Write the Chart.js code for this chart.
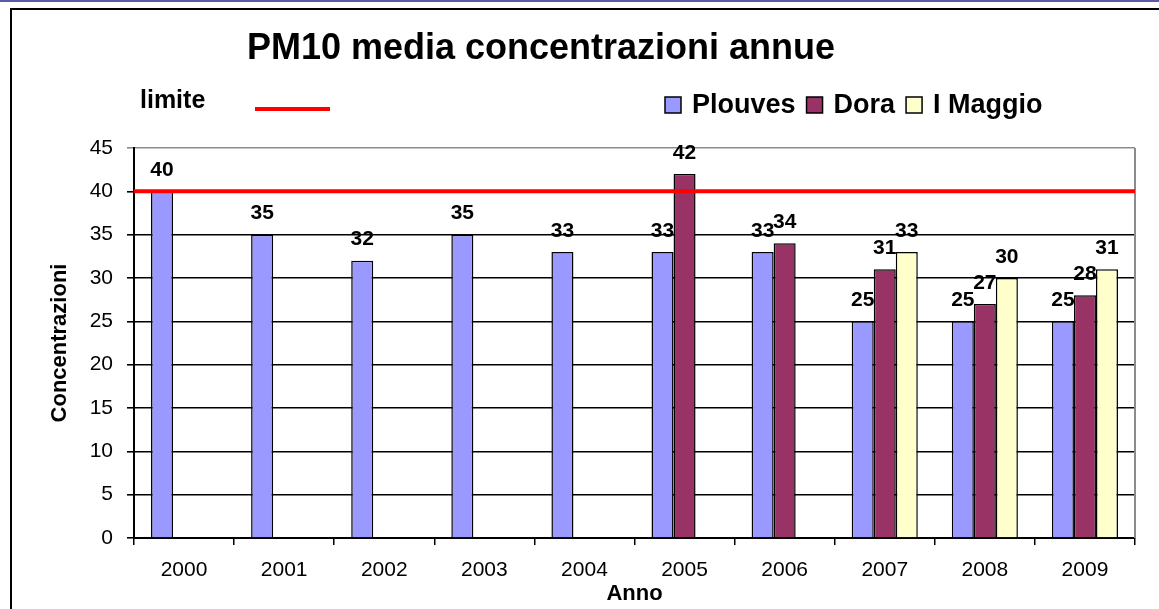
<!DOCTYPE html>
<html>
<head>
<meta charset="utf-8">
<title>PM10 media concentrazioni annue</title>
<script src="https://cdn.jsdelivr.net/npm/chart.js@4.4.0/dist/chart.umd.min.js"></script>
<style>
    html, body { margin: 0; padding: 0; background: #fff; }
    #wrap { width: 1159px; height: 609px; position: relative; }
</style>
</head>
<body>
<div id="wrap"><canvas id="myChart"></canvas></div>
<script>
// Data
const years = ["2000", "2001", "2002", "2003", "2004", "2005", "2006", "2007", "2008", "2009"];
const plouves = [40, 35, 32, 35, 33, 33, 33, 25, 25, 25];
const dora = [null, null, null, null, null, 42, 34, 31, 27, 28];
const maggio = [null, null, null, null, null, null, null, 33, 30, 31];
const limite = 40;
const yMin = 0;
const yMax = 45;
const yStep = 5;

const FONT = "'Liberation Sans', Arial, sans-serif";
Chart.defaults.font.family = FONT;
Chart.defaults.color = "#000";

// title, legend, limit line, value labels and frame
const decorPlugin = {
    id: "decor",
    beforeDraw(chart) {
        const ctx = chart.ctx;
        ctx.save();
        ctx.fillStyle = "#fff";
        ctx.fillRect(0, 0, chart.width, chart.height);
        ctx.restore();
    },
    afterDatasetsDraw(chart) {
        const { ctx, chartArea, scales } = chart;
        ctx.save();

        // right border of the plot
        ctx.strokeStyle = "#8c8c8c";
        ctx.lineWidth = 2;
        ctx.beginPath();
        ctx.moveTo(chartArea.right, chartArea.top);
        ctx.lineTo(chartArea.right, chartArea.bottom);
        ctx.stroke();

        // limit line
        const yl = scales.y.getPixelForValue(limite);
        ctx.strokeStyle = "#ff0000";
        ctx.lineWidth = 4;
        ctx.beginPath();
        ctx.moveTo(chartArea.left, yl);
        ctx.lineTo(chartArea.right, yl);
        ctx.stroke();

        // value labels
        ctx.font = "bold 21px " + FONT;
        ctx.fillStyle = "#000";
        ctx.textAlign = "center";
        ctx.textBaseline = "middle";
        chart.data.datasets.forEach((ds, i) => {
            const meta = chart.getDatasetMeta(i);
            meta.data.forEach((bar, j) => {
                const v = ds.data[j];
                if (v === null || v === undefined) return;
                ctx.fillText(String(v), bar.x, bar.y - 21);
            });
        });
        ctx.restore();
    },
    afterDraw(chart) {
        const ctx = chart.ctx;
        ctx.save();

        // outer frame
        ctx.strokeStyle = "#5a5aa8";
        ctx.lineWidth = 2;
        ctx.beginPath();
        ctx.moveTo(0, 1);
        ctx.lineTo(chart.width, 1);
        ctx.stroke();
        ctx.strokeStyle = "#000";
        ctx.beginPath();
        ctx.moveTo(chart.width, 9);
        ctx.lineTo(11, 9);
        ctx.lineTo(11, chart.height);
        ctx.stroke();

        // title
        ctx.fillStyle = "#000";
        ctx.textAlign = "center";
        ctx.textBaseline = "alphabetic";
        ctx.font = "bold 36px " + FONT;
        ctx.fillText("PM10 media concentrazioni annue", 541, 59);

        // limit legend
        ctx.textAlign = "left";
        ctx.font = "bold 25px " + FONT;
        ctx.fillText("limite", 140, 108);
        ctx.strokeStyle = "#ff0000";
        ctx.lineWidth = 4;
        ctx.beginPath();
        ctx.moveTo(255, 109);
        ctx.lineTo(330, 109);
        ctx.stroke();

        // series legend
        ctx.font = "bold 27px " + FONT;
        let x = 665;
        chart.data.datasets.forEach((ds) => {
            ctx.fillStyle = ds.backgroundColor;
            ctx.fillRect(x, 97, 16, 16);
            ctx.strokeStyle = "#000";
            ctx.lineWidth = 1.5;
            ctx.strokeRect(x, 97, 16, 16);
            ctx.fillStyle = "#000";
            ctx.fillText(ds.label, x + 27, 113);
            x += 27 + ctx.measureText(ds.label).width + 11;
        });
        ctx.restore();
    }
};

const ctx = document.getElementById("myChart").getContext("2d");
const barChart = new Chart(ctx, {
    type: "bar",
    data: {
        labels: years,
        datasets: [
            { label: "Plouves", data: plouves, backgroundColor: "#9999ff" },
            { label: "Dora", data: dora, backgroundColor: "#993366" },
            { label: "I Maggio", data: maggio, backgroundColor: "#ffffcc" }
        ]
    },
    options: {
        responsive: true,
        maintainAspectRatio: false,
        animation: false,
        layout: { padding: { top: 148, right: 24, left: 0, bottom: 0 } },
        datasets: {
            bar: {
                categoryPercentage: 0.66,
                barPercentage: 1.0,
                borderColor: "#000",
                borderWidth: 1.5
            }
        },
        plugins: {
            legend: { display: false },
            tooltip: { enabled: false },
            title: { display: false }
        },
        scales: {
            x: {
                offset: true,
                grid: {
                    offset: true,
                    drawOnChartArea: false,
                    color: "#000",
                    lineWidth: 1.5,
                    tickLength: 7
                },
                border: { color: "#000", width: 2 },
                ticks: { font: { size: 21 }, color: "#000", padding: 13, maxRotation: 0 },
                title: {
                    display: true,
                    text: "Anno",
                    font: { size: 22, weight: "bold" },
                    color: "#000",
                    padding: { top: 0, bottom: 2 }
                },
                afterFit(scale) { scale.height = 71; }
            },
            y: {
                min: yMin,
                max: yMax,
                grid: {
                    color: (c) => (c.tick && c.tick.value === yMax ? "#8c8c8c" : "#000"),
                    lineWidth: 1.6,
                    tickLength: 7
                },
                border: { color: "#000", width: 2 },
                ticks: { stepSize: yStep, font: { size: 21 }, color: "#000", padding: 14 },
                title: {
                    display: true,
                    text: "Concentrazioni",
                    font: { size: 22, weight: "bold" },
                    color: "#000",
                    padding: { top: 47, bottom: 0 }
                },
                afterFit(scale) { scale.width = 134; }
            }
        }
    },
    plugins: [decorPlugin]
});
</script>
</body>
</html>
